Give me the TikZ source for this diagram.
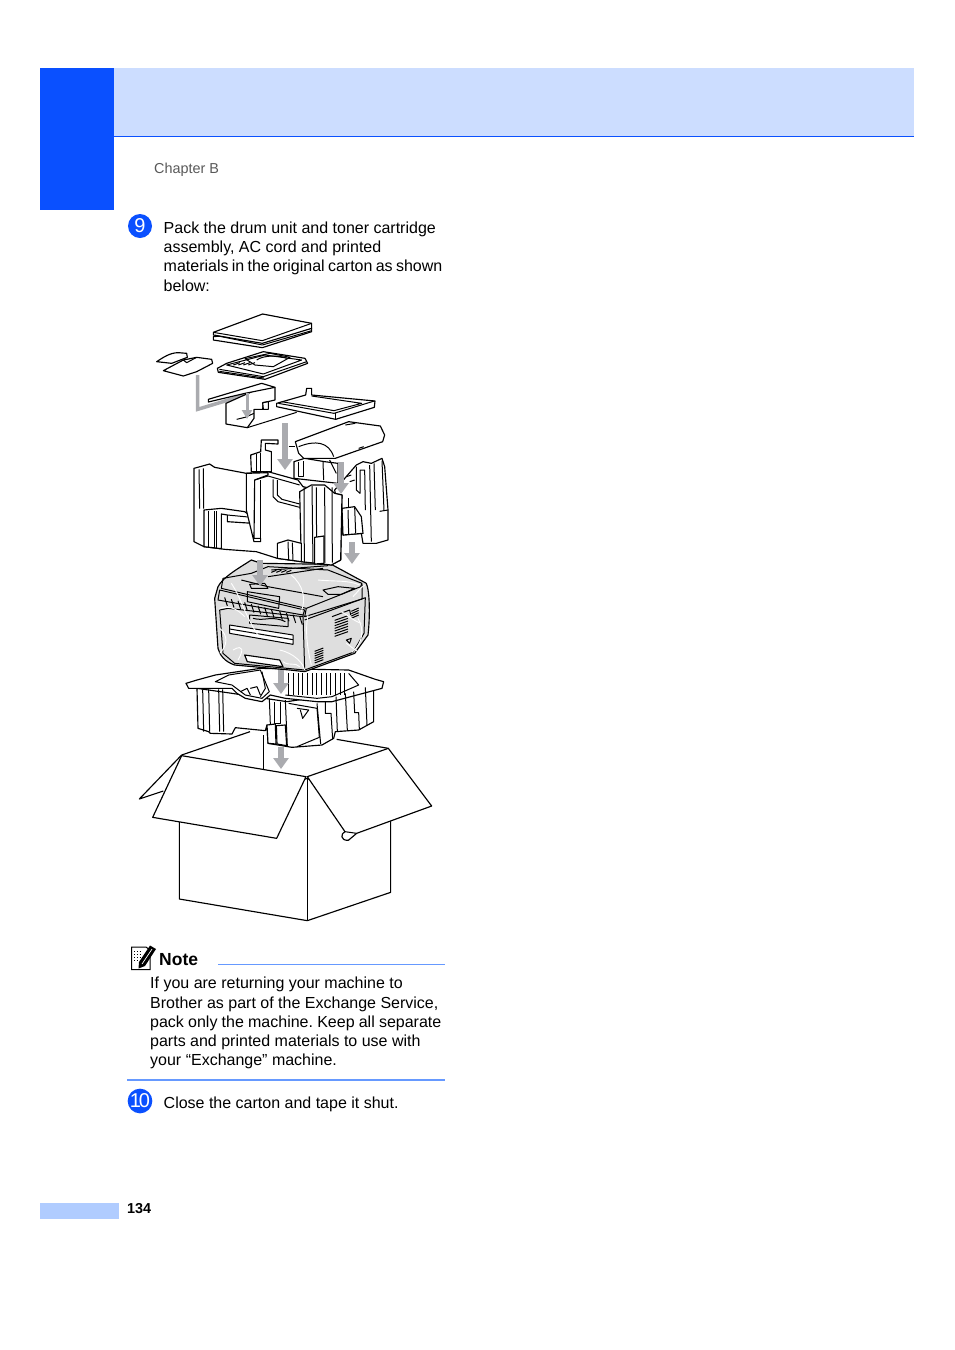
\documentclass[tikz,border=0pt]{standalone}
\usepackage{fontspec}
\setmainfont{Liberation Sans}
\usetikzlibrary{arrows.meta}
\definecolor{blockblue}{RGB}{10,80,255}
\definecolor{bandblue}{RGB}{204,221,255}
\definecolor{footblue}{RGB}{176,204,255}
\definecolor{ruleblue}{RGB}{102,153,255}
\definecolor{arrowgray}{RGB}{170,171,175}
\definecolor{baggray}{RGB}{222,222,222}
\begin{document}
\begin{tikzpicture}[x=1pt,y=-1pt]
  \tikzstyle{bodytext}=[anchor=north west,inner sep=0pt,align=left,font=\fontsize{16}{19.25}\selectfont\frenchspacing]
  \tikzstyle{stepdot}=[circle,fill=blockblue,text=white,inner sep=0pt,minimum width=24pt,font=\fontsize{20}{20}\selectfont]
  \tikzstyle{part}=[draw=black,fill=white,line width=1.15pt,line join=round]
  \tikzstyle{rib}=[draw=black,line width=1pt,line join=round]
  \tikzstyle{crease}=[draw=white,line width=0.9pt]
  \tikzstyle{downarrow}=[draw=arrowgray,line width=5.5pt,-{Triangle[length=11pt,width=15pt]}]
  \tikzstyle{smallarrow}=[draw=arrowgray,line width=3pt,-{Triangle[length=9pt,width=10pt]}]
  \useasboundingbox (0,0) rectangle (954,1350);
  \fill[white] (0,0) rectangle (954,1350);
  \fill[blockblue] (40,68) rectangle (114,210);
  \fill[bandblue] (114,68) rectangle (914,136);
  \draw[blockblue,line width=0.8pt] (114,136.5) -- (914,136.5);
  \fill[footblue] (40,1203) rectangle (119,1219);
  \node[anchor=base west,inner sep=0pt,text=black!65,font=\fontsize{14.4}{16}\selectfont] (chapter) at (154,173) {Chapter B};
  \node[anchor=base west,inner sep=0pt,font=\fontsize{14.4}{16}\selectfont\bfseries] (pageno) at (127,1213) {134};
  \node[stepdot] (dot9) at (140,226) {9};
  \node[stepdot] (dot10) at (140,1101) {1\kern-2pt 0};
  \node[bodytext] (step9) at (163.5,221.5) {Pack the drum unit and toner cartridge\\assembly, AC cord and printed\\{\spaceskip=3.3pt materials in the original carton as shown}\\below:};
  \node[bodytext] (step10) at (163.5,1096.5) {Close the carton and tape it shut.};
  \node[anchor=base west,inner sep=0pt,font=\fontsize{17.5}{20}\selectfont\bfseries] (noteword) at (159,965) {Note};
  \node[bodytext] (notetext) at (150,977) {If you are returning your machine to\\Brother as part of the Exchange Service,\\{\spaceskip=4.2pt pack only the machine. Keep all separate}\\parts and printed materials to use with\\your “Exchange” machine.};
  \draw[ruleblue,line width=0.7pt] (218,964.5) -- (445,964.5);
  \draw[ruleblue,line width=1.5pt] (127,1080) -- (445,1080);
  % note icon
  \draw[line width=1pt,fill=white] (131.5,947) -- (146,947) -- (150,950) -- (150,969.5) -- (131.5,969.5) -- cycle;
  \foreach \yy in {951,954,957,960} \draw[line width=0.8pt,dotted] (134,\yy) -- (140,\yy);
  \fill[black] (139,962) -- (150,945.5) -- (156,949) -- (145,966) -- (138.5,968.5) -- cycle;
  \draw[white,line width=0.7pt] (142,964) -- (152,949);
  % carton, back
  \begin{scope}[shift={(130,720)},scale=1/3]
    \draw[part,fill=none] (155,105) -- (360,35);
    \draw[part,fill=none] (620,58) -- (775,85);
    \draw[rib] (400,45) -- (400,148);
    \draw[part] (155,105) -- (28,237) -- (100,213);
    \draw[part] (148,300) -- (148,537) -- (532,602) -- (782,517) -- (782,300) -- (532,175) -- cycle;
    \draw[rib] (532,175) -- (532,602);
    \draw[part] (155,107) -- (528,170) -- (440,355) -- (68,292) -- cycle;
    \draw[part] (532,170) -- (775,85) -- (905,258) -- (680,340) -- (655,361) .. controls (630,362) and (632,340) .. (645,335) -- cycle;
    \draw[rib] (645,335) -- (680,340);
  \end{scope}
  % lower insert
  \begin{scope}[shift={(182,660)},scale=1/3]
    \draw[part] (45,85) -- (48,205) -- (80,215) -- (85,220) -- (150,222) -- (160,203) -- (250,212) -- (255,195) -- (258,250) -- (330,262) -- (420,255) -- (455,235) -- (460,215) -- (530,210) -- (575,185) -- (575,85) -- (315,125) -- (150,100) -- cycle;
    \foreach \xx in {62,80,110,122} \draw[rib] (\xx,88) -- (\xx+3,215);
    \draw[part] (12,70) -- (45,60) -- (100,45) -- (235,25) -- (500,30) -- (580,58) -- (605,65) -- (600,85) -- (450,125) -- (405,125) -- (310,115) -- (265,105) -- (240,125) -- (190,115) -- (165,100) -- (150,85) -- (20,85) -- cycle;
    \draw[rib] (100,65) -- (140,45) -- (235,30) -- (262,95) -- (240,115) -- (190,105) -- (170,90) -- (150,75) -- cycle;
    \foreach \xx in {320,334,348,362,376,390,404,418,432,446,460,474,488} \draw[rib] (\xx,40) -- (\xx,106);
    \draw[rib] (310,105) -- (405,115) -- (450,110) -- (530,75) -- (500,40);
    \draw[rib] (175,95) -- (195,85) -- (205,105);
    \draw[rib] (205,85) -- (225,80) -- (235,105);
    \draw[rib] (240,35) -- (250,85) -- (235,110);
    \draw[rib] (262,115) -- (265,192);
    \draw[rib] (278,125) -- (278,190) -- (295,190) -- (295,127);
    \draw[part] (255,195) -- (280,192) -- (282,252) -- (258,250) -- cycle;
    \draw[part] (283,197) -- (310,195) -- (314,257) -- (285,252) -- cycle;
    \draw[rib] (310,120) -- (316,258);
    \draw[rib] (320,130) -- (405,145) -- (412,232) -- (345,260);
    \draw[rib] (345,145) -- (380,150) -- (362,175) -- (355,150);
    \draw[rib] (405,130) -- (416,252);
    \draw[rib] (430,125) -- (430,160) -- (447,160) -- (452,238);
    \draw[rib] (462,110) -- (466,214);
    \draw[rib] (490,100) -- (496,210);
    \draw[rib] (515,95) -- (518,158) -- (530,158) -- (532,208);
    \draw[rib] (550,82) -- (555,195);
  \end{scope}
  % machine in its bag
  \begin{scope}[shift={(208,555)},scale=1/3]
    \draw[part,fill=baggray] (30,95) .. controls (45,65) and (100,35) .. (130,15) -- (160,25) -- (370,28) -- (475,85) .. controls (486,110) and (486,190) .. (480,240) -- (440,295) -- (290,350) -- (245,345) -- (80,330) .. controls (50,320) and (35,300) .. (30,280) -- (20,130) -- cycle;
    \draw[rib] (45,70) -- (130,55) -- (180,35) -- (360,45) -- (462,85) -- (458,95) -- (295,160) -- (40,100) -- cycle;
    \draw[rib] (35,105) -- (290,165) -- (285,180) -- (30,135) -- cycle;
    \draw[rib] (295,160) -- (290,185) -- (462,132) -- (462,88);
    \draw[rib] (285,180) -- (290,345);
    \draw[rib] (35,165) -- (60,160) -- (285,185);
    \draw[rib] (35,165) -- (45,295) -- (80,325) -- (290,345);
    \draw[rib] (290,195) -- (472,128) -- (468,235) -- (435,292) -- (290,345);
    \draw[rib,fill=white] (65,210) -- (255,240) -- (255,268) -- (65,235) -- cycle;
    \draw[rib] (65,222) -- (255,254);
    \draw[rib] (125,180) -- (240,190) -- (240,215) -- (125,205) -- cycle;
    \draw[rib] (135,190) .. controls (170,200) and (190,180) .. (232,200);
    \draw[part] (110,300) -- (215,315) -- (225,335) -- (118,320) -- cycle;
    \draw[rib] (118,110) -- (215,125) -- (212,160) -- (118,140) -- cycle;
    \foreach \xx in {50,70,90,110,130,150,170,190,215,235,255,275} \draw[rib] (\xx,115+\xx/4) -- (\xx+8,140+\xx/4);
    \draw[rib] (125,88) -- (170,85) -- (180,100) -- (130,100) -- cycle;
    \draw[rib] (190,45) -- (360,32);
    \draw[rib] (180,65) -- (345,40);
    \foreach \xx in {190,205,220,235} \draw[rib] (\xx,52) -- (\xx+15,46);
    \draw[rib] (100,75) -- (180,95) -- (345,125);
    \draw[rib] (345,105) -- (390,95) -- (440,100) -- (400,118) -- (360,118) -- cycle;
    \foreach \yy in {190,198,206,214,222,230,238} \draw[rib] (380,\yy+6) -- (420,\yy-8);
    \draw[rib] (372,185) -- (425,165) -- (428,180);
    \foreach \yy in {283,290,297,304,311,318} \draw[rib] (320,\yy+6) -- (346,\yy-4);
    \foreach \yy in {165,172,179,186} \draw[rib] (430,\yy+4) -- (452,\yy-6);
    \draw[rib] (415,255) -- (430,250) -- (425,265) -- cycle;
    \draw[crease] (70,85) .. controls (100,130) and (110,180) .. (150,240);
    \draw[crease] (35,160) .. controls (70,150) and (90,165) .. (110,185);
    \draw[crease] (75,285) .. controls (110,265) and (105,290) .. (90,315);
    \draw[crease] (35,220) .. controls (60,240) and (60,270) .. (35,295);
    \draw[crease] (215,285) .. controls (260,295) and (285,325) .. (290,345);
    \draw[crease] (250,60) .. controls (285,90) and (295,130) .. (280,170);
    \draw[crease] (225,320) .. controls (245,335) and (260,320) .. (275,335);
    \draw[crease] (450,190) .. controls (470,225) and (464,265) .. (432,292);
    \draw[crease] (415,265) .. controls (430,275) and (440,285) .. (450,290);
    \draw[crease] (435,125) .. controls (450,110) and (455,100) .. (470,90);
    \draw[crease] (330,75) .. controls (385,80) and (420,75) .. (455,90);
    \draw[crease] (400,170) .. controls (420,180) and (440,200) .. (460,205);
    \draw[crease] (300,180) .. controls (290,230) and (300,290) .. (310,330);
  \end{scope}
  % top items
  \begin{scope}[shift={(130,300)},scale=1/3]
    \draw[part] (250,110) -- (250,120) -- (397,143) -- (545,95) -- (545,85) -- cycle;
    \draw[part] (250,97) -- (398,42) -- (545,70) -- (545,85) -- (397,130) -- (250,105) -- cycle;
    \draw[rib] (250,97) -- (397,122) -- (545,70);
    \draw[rib] (255,106) -- (397,135) -- (545,92);
    \draw[part] (262,205) -- (290,190) -- (400,155) -- (525,175) -- (533,190) -- (405,238) -- (265,217) -- cycle;
    \draw[rib] (290,195) -- (405,165) -- (515,180) -- (400,222) -- cycle;
    \draw[rib] (268,208) -- (400,230) -- (530,185);
    \draw[rib] (268,214) -- (402,234);
    \draw[rib] (345,176) -- (420,160) -- (480,172) -- (430,200) -- (375,195) -- cycle;
    \draw[rib] (380,180) .. controls (400,165) and (450,165) .. (470,175);
    \foreach \xx in {310,325,340,355} \draw[rib] (\xx,195) -- (\xx+20,188);
    \draw[part] (80,185) .. controls (100,172) and (120,158) .. (145,158) -- (170,160) -- (172,172) -- (125,190) -- cycle;
    \draw[part] (100,212) -- (160,180) -- (200,172) -- (245,178) -- (248,190) -- (200,215) -- (160,228) -- cycle;
    \draw[rib] (160,180) -- (170,188) -- (200,172);
    \draw[arrowgray,line width=3.5pt] (203,225) -- (203,328) -- (345,285);
    \draw[part] (288,310) -- (395,262) -- (435,262) -- (435,300) -- (400,308) -- (398,328) -- (372,328) -- (372,355) -- (352,383) -- (288,372) -- cycle;
    \draw[part] (235,298) -- (395,250) -- (435,262) -- (345,280) -- (235,306) -- cycle;
    \draw[rib] (352,383) -- (500,337);
    \draw[rib] (320,358) -- (345,352) -- (372,340);
    \draw[part] (440,310) -- (527,285) -- (530,265) -- (545,265) -- (545,285) -- (735,303) -- (733,322) -- (617,358) -- (440,320) -- cycle;
    \draw[rib] (445,310) -- (612,340) -- (733,303);
    \draw[rib] (617,340) -- (617,358);
    \draw[rib] (545,288) -- (695,310) -- (612,332) -- (455,305);
    \draw[part] (398,308) -- (415,305) -- (415,328) -- (400,328) -- cycle;
  \end{scope}
  % upper insert
  \begin{scope}[shift={(188,430)},scale=1/3]
    \draw[part] (505,105) -- (525,95) -- (550,100) -- (582,85) -- (590,110) -- (600,240) -- (600,330) -- (565,340) -- (525,340) -- (520,310) -- (465,315) -- (440,180) -- cycle;
    \draw[rib] (545,105) -- (550,335);
    \draw[rib] (558,100) -- (562,240);
    \draw[rib] (582,92) -- (588,242);
    \draw[rib] (575,244) -- (600,240);
    \draw[rib] (505,110) -- (505,180) -- (516,190) -- (516,120) -- (530,120) -- (532,240);
    \draw[part] (462,235) -- (500,230) -- (520,260) -- (525,310) -- (465,315) -- cycle;
    \draw[rib] (480,240) -- (482,312);
    \draw[rib] (500,232) -- (503,310);
    \draw[rib] (480,205) -- (480,235);
    \draw[rib] (475,140) -- (490,135);
    \draw[rib] (485,155) -- (500,150);
    \draw[part] (188,75) -- (218,65) -- (220,30) -- (270,30) -- (270,42) -- (232,40) -- (232,60) -- (250,65) -- (250,125) -- (190,125) -- cycle;
    \draw[rib] (205,72) -- (205,122);
    \draw[rib] (218,68) -- (218,122);
    \draw[part] (318,95) -- (350,85) -- (410,95) -- (450,100) -- (450,160) -- (318,145) -- cycle;
    \draw[rib] (330,95) -- (330,140) -- (345,140) -- (345,92);
    \draw[rib] (405,95) -- (407,150);
    \draw[rib] (425,90) -- (445,130);
    \draw[part] (18,115) -- (65,102) -- (80,112) -- (175,130) -- (240,125) -- (330,150) -- (345,170) -- (440,190) -- (462,195) -- (458,390) -- (430,405) -- (340,395) -- (268,385) -- (205,365) -- (110,358) -- (48,350) -- (18,335) -- cycle;
    \draw[rib] (33,118) -- (35,236);
    \draw[rib] (46,115) -- (47,236);
    \draw[part] (48,240) -- (100,235) -- (170,245) -- (195,262) -- (195,280) -- (118,275) -- (118,255) -- (100,252) -- (100,356) -- (48,350) -- cycle;
    \foreach \xx in {60,78,85} \draw[rib] (\xx,243) -- (\xx,354);
    \draw[rib] (118,255) -- (170,260) -- (195,262);
    \draw[part] (175,130) -- (240,128) -- (240,135) -- (200,150) -- (198,325) -- (218,325) -- (218,335) -- (198,335) -- (175,240) -- cycle;
    \draw[rib] (218,150) -- (218,325);
    \draw[rib] (200,150) -- (240,138) -- (335,165);
    \draw[rib] (255,148) -- (255,200) -- (270,215) -- (335,232);
    \draw[rib] (268,150) -- (268,195) -- (282,208) -- (335,222);
    \draw[part] (335,185) -- (370,165) -- (410,165) -- (440,190) -- (462,195) -- (458,390) -- (430,405) -- (340,395) -- cycle;
    \foreach \xx in {348,385,410,432} \draw[rib] (\xx,172) -- (\xx+1,398);
    \draw[rib] (372,168) -- (375,400);
    \draw[part] (380,322) -- (408,318) -- (408,400) -- (380,402) -- cycle;
    \draw[part] (268,340) -- (300,330) -- (340,340) -- (340,395) -- (268,385) -- cycle;
    \draw[rib] (300,335) -- (302,390);
    \draw[rib] (313,338) -- (315,392);
    % wrapped cartridge
    \draw[part] (322,35) -- (482,-25) -- (577,-12) -- (590,15) -- (584,35) -- (442,85) -- (347,85) -- (332,70) -- cycle;
    \draw[rib] (332,50) .. controls (382,30) and (422,35) .. (437,80);
    \draw[rib] (472,-15) -- (502,-20);
    \draw[rib] (512,55) -- (527,50);
    \draw[rib] (302,48) -- (322,48);
  \end{scope}
  \draw[downarrow] (285,423) -- (285,470);
  \draw[smallarrow] (247,393) -- (247,419);
  \draw[downarrow] (341,462) -- (341,494);
  \draw[downarrow] (352,542) -- (352,564);
  \draw[downarrow] (260,560) -- (260,586);
  \draw[downarrow] (281,670) -- (281,694);
  \draw[downarrow] (281,747) -- (281,769);
\end{tikzpicture}
\end{document}
